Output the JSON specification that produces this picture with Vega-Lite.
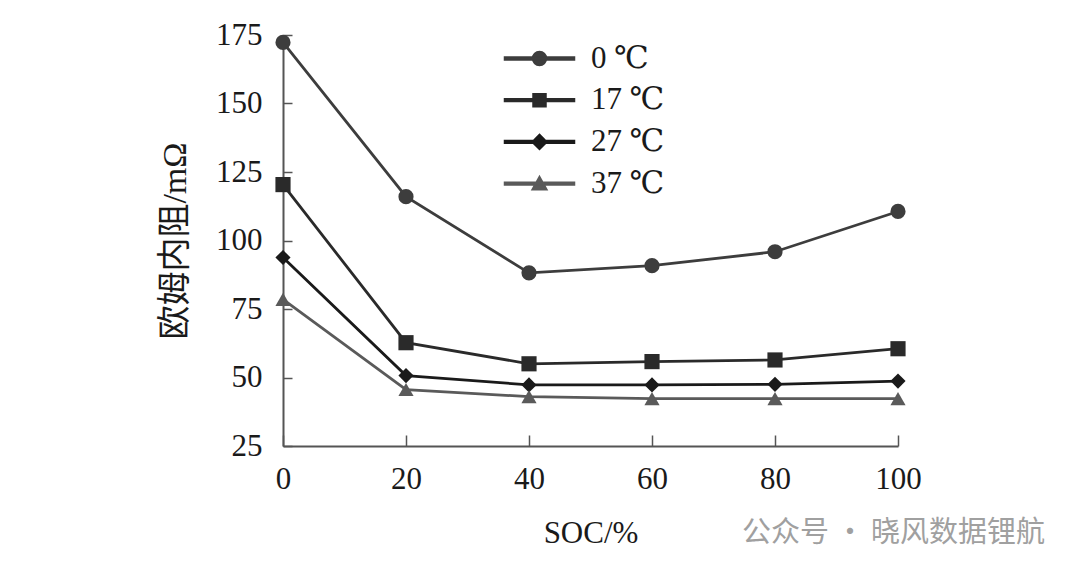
{
  "$schema": "https://vega.github.io/schema/vega-lite/v6.json",
  "width": 615,
  "height": 411,
  "autosize": "none",
  "padding": {"left": 283, "top": 35, "right": 182, "bottom": 128},
  "background": "white",
  "config": {"view": {"stroke": null}, "font": "Liberation Serif"},
  "title": {
    "text": "公众号 · 晓风数据锂航",
    "orient": "bottom",
    "anchor": "end",
    "frame": "group",
    "font": "Noto Sans CJK SC",
    "fontSize": 29,
    "fontWeight": "normal",
    "color": "#a0a0a0",
    "offset": 4,
    "dx": 147,
    "dy": -33
  },
  "data": {
    "values": [
      {"temp": "0 ℃", "soc": 0, "r": 172.3},
      {"temp": "0 ℃", "soc": 20, "r": 116},
      {"temp": "0 ℃", "soc": 40, "r": 88.2},
      {"temp": "0 ℃", "soc": 60, "r": 90.8},
      {"temp": "0 ℃", "soc": 80, "r": 95.9},
      {"temp": "0 ℃", "soc": 100, "r": 110.6},
      {"temp": "17 ℃", "soc": 0, "r": 120.4},
      {"temp": "17 ℃", "soc": 20, "r": 62.7},
      {"temp": "17 ℃", "soc": 40, "r": 55},
      {"temp": "17 ℃", "soc": 60, "r": 55.8},
      {"temp": "17 ℃", "soc": 80, "r": 56.4},
      {"temp": "17 ℃", "soc": 100, "r": 60.5},
      {"temp": "27 ℃", "soc": 0, "r": 93.8},
      {"temp": "27 ℃", "soc": 20, "r": 50.7},
      {"temp": "27 ℃", "soc": 40, "r": 47.3},
      {"temp": "27 ℃", "soc": 60, "r": 47.3},
      {"temp": "27 ℃", "soc": 80, "r": 47.5},
      {"temp": "27 ℃", "soc": 100, "r": 48.7},
      {"temp": "37 ℃", "soc": 0, "r": 78.5},
      {"temp": "37 ℃", "soc": 20, "r": 45.6},
      {"temp": "37 ℃", "soc": 40, "r": 43},
      {"temp": "37 ℃", "soc": 60, "r": 42.3},
      {"temp": "37 ℃", "soc": 80, "r": 42.3},
      {"temp": "37 ℃", "soc": 100, "r": 42.3}
    ]
  },
  "encoding": {
    "x": {
      "field": "soc",
      "type": "quantitative",
      "scale": {"domain": [0, 100], "nice": false},
      "axis": {
        "values": [0, 20, 40, 60, 80, 100],
        "title": "SOC/%",
        "titleFont": "Liberation Serif",
        "titleFontSize": 31,
        "titleFontWeight": "normal",
        "titleColor": "#1a1a1a",
        "titlePadding": 24,
        "labelFont": "Liberation Serif",
        "labelFontSize": 31,
        "labelColor": "#1a1a1a",
        "labelPadding": 29,
        "labelFlush": false,
        "tickSize": -11,
        "tickColor": "#555555",
        "tickWidth": 1.5,
        "domainColor": "#555555",
        "domainWidth": 2,
        "grid": false
      }
    },
    "y": {
      "field": "r",
      "type": "quantitative",
      "scale": {"domain": [25, 175], "nice": false},
      "axis": {
        "values": [25, 50, 75, 100, 125, 150, 175],
        "title": "欧姆内阻/mΩ",
        "titleFont": "'Liberation Serif', 'Noto Sans CJK SC'",
        "titleFontSize": 34,
        "titleFontWeight": "normal",
        "titleColor": "#1a1a1a",
        "titlePadding": 23,
        "labelFont": "Liberation Serif",
        "labelFontSize": 31,
        "labelColor": "#1a1a1a",
        "labelPadding": 30,
        "labelFlush": false,
        "tickSize": -9,
        "tickColor": "#555555",
        "tickWidth": 1.5,
        "domainColor": "#555555",
        "domainWidth": 2,
        "grid": false
      }
    },
    "color": {
      "field": "temp",
      "type": "nominal",
      "sort": ["0 ℃", "17 ℃", "27 ℃", "37 ℃"],
      "scale": {
        "domain": ["0 ℃", "17 ℃", "27 ℃", "37 ℃"],
        "range": ["#3d3d3d", "#2a2a2a", "#1a1a1a", "#5a5a5a"]
      },
      "legend": {
        "orient": "none",
        "legendX": 241,
        "legendY": 8,
        "title": null,
        "labelFont": "'Liberation Serif', 'DejaVu Serif'",
        "labelFontSize": 31,
        "labelColor": "#1a1a1a",
        "labelOffset": 36,
        "symbolSize": 400,
        "rowPadding": 9.7
      }
    }
  },
  "layer": [
    {"mark": {"type": "line", "strokeWidth": 2.8}},
    {
      "transform": [{"filter": "datum.temp === '0 ℃'"}],
      "mark": {"type": "point", "shape": "circle", "filled": true, "size": 230, "opacity": 1}
    },
    {
      "transform": [{"filter": "datum.temp === '17 ℃'"}],
      "mark": {"type": "point", "shape": "square", "filled": true, "size": 230, "opacity": 1}
    },
    {
      "transform": [{"filter": "datum.temp === '27 ℃'"}],
      "mark": {"type": "point", "shape": "diamond", "filled": true, "size": 230, "opacity": 1}
    },
    {
      "transform": [{"filter": "datum.temp === '37 ℃'"}],
      "mark": {"type": "point", "shape": "triangle-up", "filled": true, "size": 230, "opacity": 1}
    },
    {
      "transform": [{"filter": "false"}],
      "mark": {"type": "point", "filled": true, "size": 400, "opacity": 1},
      "encoding": {
        "shape": {
          "field": "temp",
          "type": "nominal",
          "sort": ["0 ℃", "17 ℃", "27 ℃", "37 ℃"],
          "scale": {
            "domain": ["0 ℃", "17 ℃", "27 ℃", "37 ℃"],
            "range": [
              "M-3.5,-0.14H3.5V0.14H-3.5ZM0.7,0A0.7,0.7,0,1,1,-0.7,0A0.7,0.7,0,1,1,0.7,0Z",
              "M-3.5,-0.14H3.5V0.14H-3.5ZM-0.65,-0.65H0.65V0.65H-0.65Z",
              "M-3.5,-0.14H3.5V0.14H-3.5ZM0,-0.75L0.75,0L0,0.75L-0.75,0Z",
              "M-3.5,-0.14H3.5V0.14H-3.5ZM0,-0.72L0.75,0.62H-0.75Z"
            ]
          },
          "legend": {
            "orient": "none",
            "legendX": 241,
            "legendY": 8,
            "title": null,
            "labelFont": "'Liberation Serif', 'DejaVu Serif'",
            "labelFontSize": 31,
            "labelColor": "#1a1a1a",
            "labelOffset": 36,
            "symbolSize": 400,
            "rowPadding": 9.7
          }
        }
      }
    }
  ]
}
